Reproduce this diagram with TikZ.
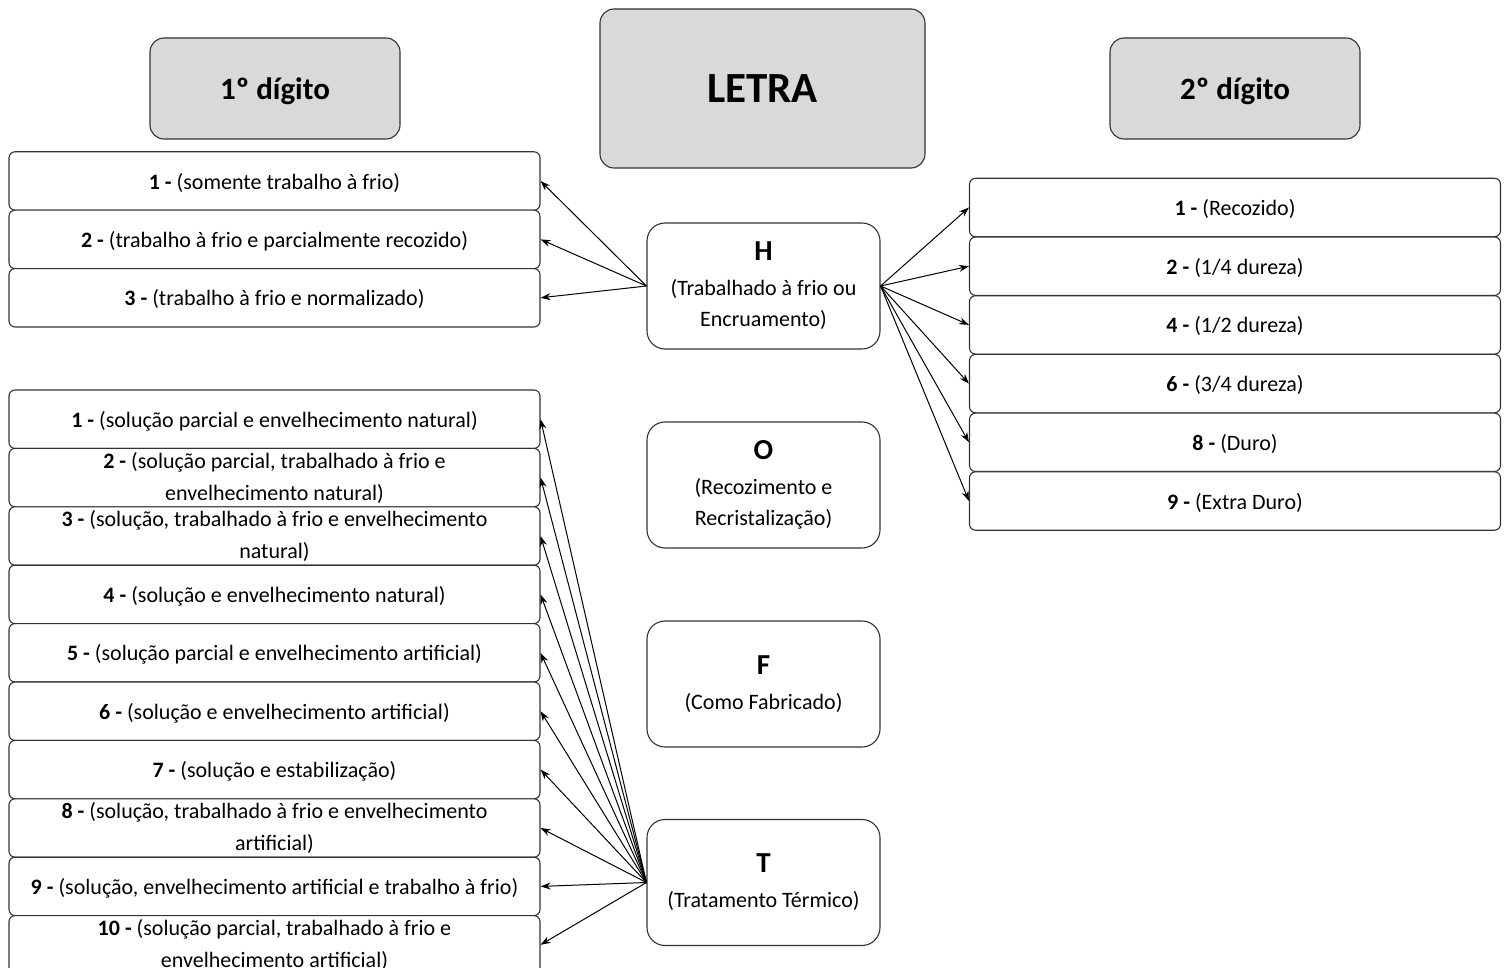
\documentclass[tikz,border=0pt]{standalone}
\usepackage{fontspec}
\setmainfont{Carlito}
\usetikzlibrary{arrows.meta, positioning, calc}

\begin{document}
\begin{tikzpicture}[x=1pt,y=-1pt]

\tikzstyle{conn}  = [->,>={Stealth[length=10pt,width=7pt]},line width=1pt]
\tikzstyle{item}  = [
  rectangle,
  rounded corners=6pt,
  draw=black!80,
  line width=1.1pt,
  fill=white,
  minimum width=531pt,
  minimum height=58.4pt,
  inner sep=0pt,
  text depth=0pt,
  font=\fontsize{22}{32}\selectfont]
\tikzstyle{head}  = [
  rectangle,
  rounded corners=14pt,
  draw=black!80,
  line width=1.1pt,
  fill=black!15,
  text depth=0pt,
  inner sep=0pt]
\tikzstyle{letter}  = [
  rectangle,
  rounded corners=18pt,
  draw=black!80,
  line width=1.1pt,
  fill=white,
  minimum width=233pt,
  minimum height=126pt,
  inner sep=0pt,
  align=center,
  font=\fontsize{22}{31}\selectfont]
\tikzstyle{txt}  = [align=center,font=\fontsize{22}{32}\selectfont]

\def\big#1{{\bfseries\fontsize{29}{34}\selectfont #1}}

\useasboundingbox (0,0) rectangle (1504,968);
\clip (0,0) rectangle (1504,968);

% headings
\node[head,minimum width=250pt,minimum height=101pt,font=\bfseries\fontsize{31}{36}\selectfont] (dig1) at (275,88.5) {1º dígito};
\node[head,minimum width=325pt,minimum height=159pt,font=\bfseries\fontsize{43}{50}\selectfont] (letra) at (762.5,88.5) {LETRA};
\node[head,minimum width=250pt,minimum height=101pt,font=\bfseries\fontsize{31}{36}\selectfont] (dig2) at (1235,88.5) {2º dígito};

% letters
\node[letter] (h) at (763.5,286) {\big{H}\\[4pt](Trabalhado à frio ou\\Encruamento)};
\node[letter] (o) at (763.5,485) {\big{O}\\[4pt](Recozimento e\\Recristalização)};
\node[letter] (f) at (763.5,684) {\big{F}\\[4pt](Como Fabricado)};
\node[letter] (t) at (763.5,882.5) {\big{T}\\[4pt](Tratamento Térmico)};

% 1st digit for H
\node[item] (h1) at (274.5,181) {\textbf{1 -} (somente trabalho à frio)};
\node[item] (h2) at (274.5,239.4) {\textbf{2 -} (trabalho à frio e parcialmente recozido)};
\node[item] (h3) at (274.5,297.8) {\textbf{3 -} (trabalho à frio e normalizado)};

% 2nd digit for H
\node[item] (d1) at (1235,207.5) {\textbf{1 -} (Recozido)};
\node[item] (d2) at (1235,266.2) {\textbf{2 -} (1/4 dureza)};
\node[item] (d4) at (1235,324.9) {\textbf{4 -} (1/2 dureza)};
\node[item] (d6) at (1235,383.6) {\textbf{6 -} (3/4 dureza)};
\node[item] (d8) at (1235,442.3) {\textbf{8 -} (Duro)};
\node[item] (d9) at (1235,501) {\textbf{9 -} (Extra Duro)};

% 1st digit for T
\node[item] (t1) at (274.5,419.2) {\textbf{1 -} (solução parcial e envelhecimento natural)};
\node[item,label={[txt]center:{\textbf{2 -} (solução parcial, trabalhado à frio e\\envelhecimento natural)}}] (t2) at (274.5,477.6) {};
\node[item,label={[txt]center:{\textbf{3 -} (solução, trabalhado à frio e envelhecimento\\natural)}}] (t3) at (274.5,536) {};
\node[item] (t4) at (274.5,594.4) {\textbf{4 -} (solução e envelhecimento natural)};
\node[item] (t5) at (274.5,652.8) {\textbf{5 -} (solução parcial e envelhecimento artificial)};
\node[item] (t6) at (274.5,711.2) {\textbf{6 -} (solução e envelhecimento artificial)};
\node[item] (t7) at (274.5,769.6) {\textbf{7 -} (solução e estabilização)};
\node[item,label={[txt]center:{\textbf{8 -} (solução, trabalhado à frio e envelhecimento\\artificial)}}] (t8) at (274.5,828) {};
\node[item] (t9) at (274.5,886.4) {\textbf{9 -} (solução, envelhecimento artificial e trabalho à frio)};
\node[item,label={[txt]center:{\textbf{10 -} (solução parcial, trabalhado à frio e\\envelhecimento artificial)}}] (t10) at (274.5,944.8) {};

% arrows
\draw[conn] (h.west) -- (h1.east);
\draw[conn] (h.west) -- (h2.east);
\draw[conn] (h.west) -- (h3.east);

\draw[conn] (h.east) -- (d1.west);
\draw[conn] (h.east) -- (d2.west);
\draw[conn] (h.east) -- (d4.west);
\draw[conn] (h.east) -- (d6.west);
\draw[conn] (h.east) -- (d8.west);
\draw[conn] (h.east) -- (d9.west);

\draw[conn] (t.west) -- (t1.east);
\draw[conn] (t.west) -- (t2.east);
\draw[conn] (t.west) -- (t3.east);
\draw[conn] (t.west) -- (t4.east);
\draw[conn] (t.west) -- (t5.east);
\draw[conn] (t.west) -- (t6.east);
\draw[conn] (t.west) -- (t7.east);
\draw[conn] (t.west) -- (t8.east);
\draw[conn] (t.west) -- (t9.east);
\draw[conn] (t.west) -- (t10.east);

\end{tikzpicture}
\end{document}
